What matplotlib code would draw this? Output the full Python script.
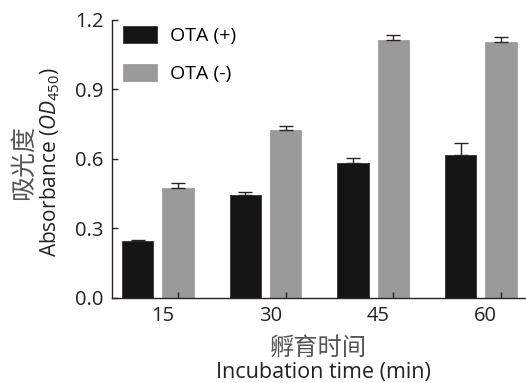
import numpy as np
import matplotlib
matplotlib.use("Agg")
import matplotlib.pyplot as plt

# -----------------------------
# Data
# -----------------------------
times = ["15", "30", "45", "60"]
ota_pos = [0.247, 0.445, 0.581, 0.619]
ota_pos_err = [0.003, 0.011, 0.022, 0.049]
ota_neg = [0.476, 0.725, 1.112, 1.103]
ota_neg_err = [0.019, 0.019, 0.022, 0.022]

plt.rcParams["font.family"] = ["Open Sans", "Noto Sans CJK SC", "DejaVu Sans"]
plt.rcParams["mathtext.fontset"] = "custom"
plt.rcParams["mathtext.it"] = "Open Sans:italic"
plt.rcParams["mathtext.rm"] = "Open Sans"

# -----------------------------
# Figure
# -----------------------------
fig = plt.figure(figsize=(5.26, 3.83), dpi=100)
ax = fig.add_axes([0.213, 0.222, 0.785, 0.726])

x = np.arange(len(times))
width = 0.29
offset = 0.376
spine_col = "#2b2222"

ax.bar(x, ota_pos, width, color="#141414", edgecolor="#3a3030", linewidth=0.6,
       label="OTA (+)")
ax.bar(x + offset, ota_neg, width, color="#9a9a9a", edgecolor="#a89a9a", linewidth=0.6,
       label="OTA (-)")

ax.errorbar(x, ota_pos, yerr=[np.zeros(4), ota_pos_err], fmt="none",
            ecolor=spine_col, elinewidth=1.0, capsize=5.2, capthick=1.0)
ax.errorbar(x + offset, ota_neg, yerr=[np.zeros(4), ota_neg_err], fmt="none",
            ecolor=spine_col, elinewidth=1.0, capsize=5.2, capthick=1.0)

ax.set_xlim(-0.237, 3.598)
ax.set_ylim(0, 1.2)
ax.set_yticks([0.0, 0.3, 0.6, 0.9, 1.2])
ax.set_yticklabels(["0.0", "0.3", "0.6", "0.9", "1.2"])

ax.set_xticks(x + 0.235)
ax.set_xticklabels(times)
ax.set_xticks(x + offset, minor=True)
ax.tick_params(axis="x", which="major", length=0, pad=6, labelsize=14.5, colors="#222222")
ax.tick_params(axis="x", which="minor", direction="in", length=4, width=1, color=spine_col)
ax.tick_params(axis="y", direction="in", length=4, width=1, color=spine_col,
               labelsize=14.5, labelcolor="#222222", pad=6)

for s in ["top", "right"]:
    ax.spines[s].set_visible(False)
for s in ["left", "bottom"]:
    ax.spines[s].set_color(spine_col)
    ax.spines[s].set_linewidth(1.0)

# -----------------------------
# Labels
# -----------------------------
fig.text(0.046, 0.577, "吸光度", rotation=90, ha="center", va="center",
         fontsize=18, color="#555555", family=["Noto Sans CJK SC"], fontweight="light")
fig.text(0.095, 0.577, r"Absorbance ($OD_{450}$)", rotation=90, ha="center",
         va="center", fontsize=15, color="#222222")
fig.text(0.606, 0.091, "孵育时间", ha="center", va="center",
         fontsize=17.5, color="#555555", family=["Noto Sans CJK SC"], fontweight="light")
fig.text(0.614, 0.027, "Incubation time (min)", ha="center", va="center",
         fontsize=15.5, color="#222222")

leg = ax.legend(loc="upper left", frameon=False, fontsize=14, handlelength=1.75,
                handleheight=1.0, handletextpad=0.65, labelspacing=0.95,
                borderpad=0, borderaxespad=0, bbox_to_anchor=(0.027, 0.978))

fig.savefig("out.png", dpi=100)
